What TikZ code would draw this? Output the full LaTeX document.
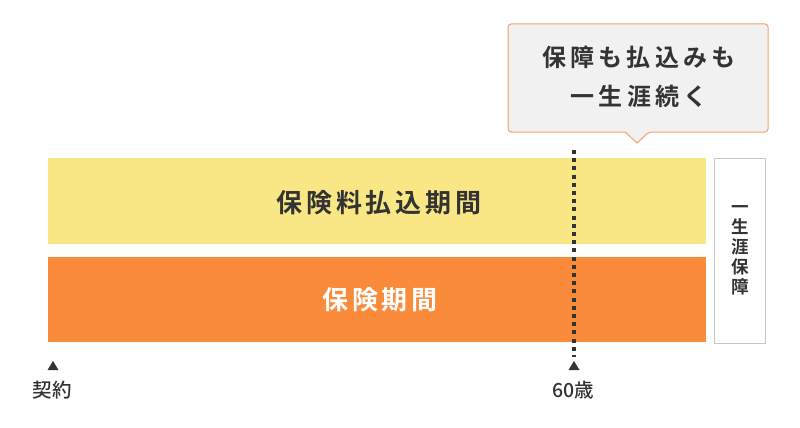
\documentclass[tikz,border=0pt]{standalone}
\usepackage{fontspec}
\setmainfont{Noto Sans CJK JP}
\newfontfamily\jpm{Noto Sans CJK JP Medium}
\newfontfamily\jpb{Noto Sans CJK JP Bold}
\definecolor{txt}{HTML}{333333}
\definecolor{ylw}{HTML}{F8E784}
\definecolor{org}{HTML}{F98B3A}
\definecolor{calfill}{HTML}{F1F1F1}
\definecolor{calline}{HTML}{F6A26A}
\definecolor{grayline}{HTML}{C8C8C8}
\tikzset{
  bar/.style={draw=none, minimum width=658pt, inner sep=0pt, anchor=north west},
  bartext/.style={font=\fontsize{26}{30}\jpb\addfontfeatures{LetterSpace=15}},
  tri/.style={fill=txt, draw=none},
  lbl/.style={font=\fontsize{19.5}{22}\jpm, text=txt, inner sep=0pt}
}
\begin{document}
\begin{tikzpicture}[x=1pt,y=-1pt]
\useasboundingbox[fill=white] (0,0) rectangle (800,428);
% bars
\node[bar, fill=ylw, minimum height=86pt] (pay) at (48,158) {};
\node[bar, fill=org, minimum height=85pt] (cov) at (48,257) {};
\node[bartext, text=txt] (payt) at (379,203) {保険料払込期間};
\node[bartext, text=white] (covt) at (380,300) {保険期間};
% side box
\node[draw=grayline, line width=1pt, minimum width=51pt, minimum height=185pt, inner sep=0pt, anchor=north west] (side) at (714,157.5) {};
\node[font=\fontsize{17.5}{20}\jpb, text=txt, align=center, inner sep=0pt] (sidet) at (740,250) {一\\生\\涯\\保\\障};
% callout
\coordinate (c1) at (508,24);
\coordinate (c2) at (768,132);
\draw[calline, fill=calfill, line width=1pt, rounded corners=3pt]
  (508,24) -- (768,24) -- (768,132) -- (649,132) [sharp corners] -- (637,143) -- (625,132) [rounded corners=3pt] -- (508,132) -- cycle;
\node[font=\fontsize{24}{39}\jpb\addfontfeatures{LetterSpace=17}, text=txt, align=center] (callt) at (639,77) {保障も払込みも\\一生涯続く};
% dotted line
\coordinate (dtop) at (574,150);
\coordinate (dbot) at (574,357);
\draw[txt, line width=3.5pt, dash pattern=on 4pt off 4.2pt] (dtop) -- (dbot);
% markers
\fill[tri] (574,361) -- (579.5,370) -- (568.5,370) -- cycle;
\fill[tri] (53,361) -- (58.5,370) -- (47.5,370) -- cycle;
\node[lbl] (age) at (573,390) {60歳};
\node[lbl] (start) at (52,390) {契約};
\end{tikzpicture}
\end{document}
